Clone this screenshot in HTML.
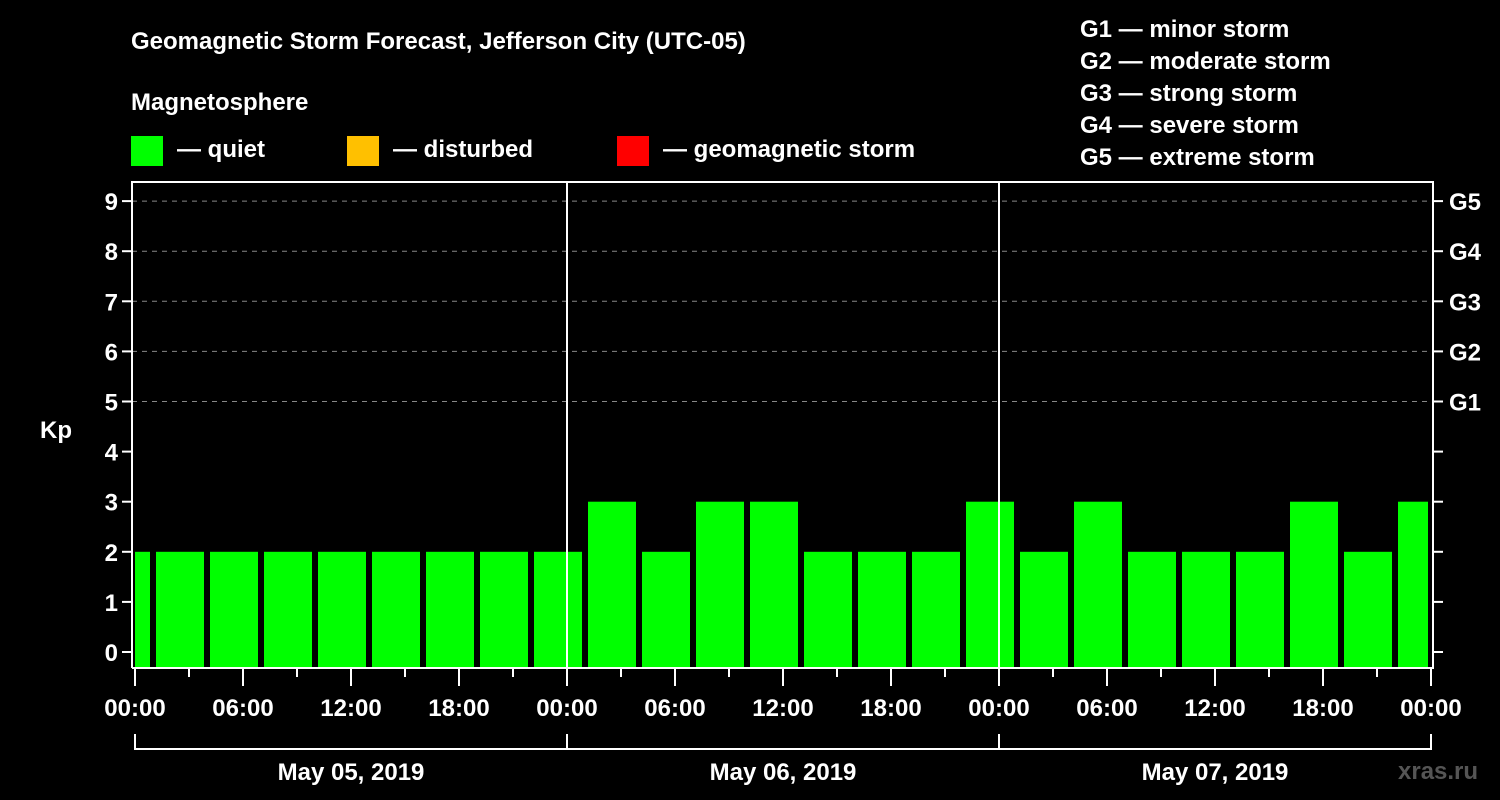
<!DOCTYPE html>
<html><head><meta charset="utf-8"><style>
html,body{margin:0;padding:0;background:#000;}
svg{display:block;font-family:"Liberation Sans",Arial,sans-serif;font-weight:bold;}
</style></head><body>
<svg id="chart" width="1500" height="800" viewBox="0 0 1500 800" xmlns="http://www.w3.org/2000/svg">
<rect width="1500" height="800" fill="#000"/>
<text x="131" y="49" fill="#fff" font-size="24">Geomagnetic Storm Forecast, Jefferson City (UTC-05)</text>
<text x="131" y="110" fill="#fff" font-size="24">Magnetosphere</text>
<g><rect x="131" y="136" width="32" height="30" fill="#00ff00"/><text x="177" y="157" fill="#fff" font-size="24">— quiet</text></g>
<g><rect x="347" y="136" width="32" height="30" fill="#ffc000"/><text x="393" y="157" fill="#fff" font-size="24">— disturbed</text></g>
<g><rect x="617" y="136" width="32" height="30" fill="#ff0000"/><text x="663" y="157" fill="#fff" font-size="24">— geomagnetic storm</text></g>
<g fill="#fff" font-size="24">
<text x="1080" y="37">G1 — minor storm</text>
<text x="1080" y="69">G2 — moderate storm</text>
<text x="1080" y="101">G3 — strong storm</text>
<text x="1080" y="133">G4 — severe storm</text>
<text x="1080" y="165">G5 — extreme storm</text>
</g>
<text x="40" y="438" fill="#fff" font-size="24">Kp</text>
<text x="1398" y="779" fill="#555" font-size="24">xras.ru</text>
<g id="grid"></g><g id="bars"></g><g id="axes"></g>
</svg>
<script>
const kpValues=[2,2,2,2,2,2,2,2,2, 3,2,3,3,2,2,2,3, 2,3,2,2,2,3,2,3];
const blockStartHours=[-2,1,4,7,10,13,16,19,22,25,28,31,34,37,40,43,46,49,52,55,58,61,64,67,70];
const yTicks=[0,1,2,3,4,5,6,7,8,9];
const gLabels=["G1","G2","G3","G4","G5"];
const gLevels=[5,6,7,8,9];
const hourLabels=["00:00","06:00","12:00","18:00"];
const dayLabels=["May 05, 2019","May 06, 2019","May 07, 2019"];
const NS="http://www.w3.org/2000/svg";
const X0=135,PXH=18,Y0=652,PXK=50.1,L=132,R=1433,T=182,B=668;
const x=h=>X0+h*PXH, y=k=>Y0-k*PXK;
function mk(p,tag,a){const e=document.createElementNS(NS,tag);for(const k in a)e.setAttribute(k,a[k]);p.appendChild(e);return e;}
const grid=document.getElementById('grid'),bars=document.getElementById('bars'),axes=document.getElementById('axes');
yTicks.forEach(k=>{if(k>=5){const g=mk(grid,'line',{x1:L,x2:R,y1:y(k),y2:y(k),stroke:'#888','stroke-dasharray':'5,5','stroke-width':1});

}});
kpValues.forEach((v,i)=>{let a=x(blockStartHours[i])+3,b=x(blockStartHours[i]+3)-3;a=Math.max(a,X0);b=Math.min(b,x(72)-3);
const c=v>=5?'#ff0000':(v>=4?'#ffc000':'#00ff00');
const r=mk(bars,'rect',{x:a,y:y(v),width:b-a,height:B-1-y(v),fill:c});

});
// frame
const f=mk(axes,'path',{d:`M${L} ${B}V${T}H${R}V${B}H${L}`,fill:'none',stroke:'#fff','stroke-width':2});


yTicks.forEach(k=>{mk(axes,'line',{x1:L-10,x2:L,y1:y(k),y2:y(k),stroke:'#fff','stroke-width':2});
mk(axes,'line',{x1:R,x2:R+10,y1:y(k),y2:y(k),stroke:'#fff','stroke-width':2});
const t=mk(axes,'text',{x:L-14,y:y(k)+9,fill:'#fff','font-size':24,'text-anchor':'end'});t.textContent=k;

});
gLevels.forEach((k,i)=>{const t=mk(axes,'text',{x:1449,y:y(k)+9,fill:'#fff','font-size':24});t.textContent=gLabels[i];

});
for(let h=0;h<=72;h+=3){const maj=h%6===0;mk(axes,'line',{x1:x(h),x2:x(h),y1:B,y2:maj?686:677,stroke:'#fff','stroke-width':2});}
for(let h=0;h<=72;h+=6){const t=mk(axes,'text',{x:x(h),y:716,fill:'#fff','font-size':24,'text-anchor':'middle'});t.textContent=hourLabels[(h/6)%4];

}
[24,48].forEach(h=>{mk(axes,'line',{x1:x(h),x2:x(h),y1:T,y2:B,stroke:'#fff','stroke-width':2});});
[0,24,48,72].forEach(h=>{mk(axes,'line',{x1:x(h),x2:x(h),y1:734,y2:750,stroke:'#fff','stroke-width':2});});
mk(axes,'line',{x1:x(0),x2:x(72),y1:749,y2:749,stroke:'#fff','stroke-width':2});
dayLabels.forEach((d,i)=>{const t=mk(axes,'text',{x:x(i*24+12),y:780,fill:'#fff','font-size':24,'text-anchor':'middle'});t.textContent=d;

});
</script>
</body></html>
